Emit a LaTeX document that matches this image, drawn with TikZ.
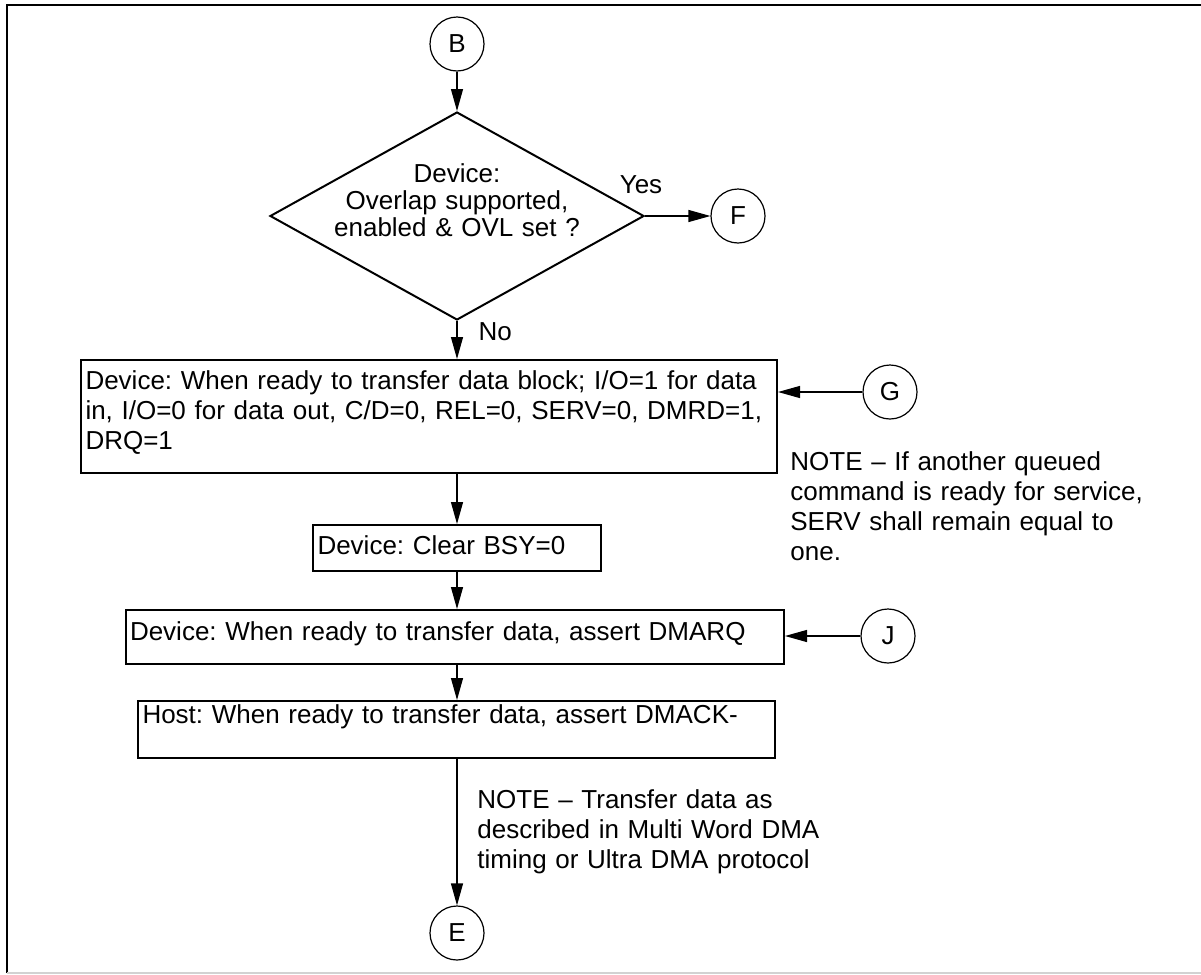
\documentclass[tikz,border=0pt]{standalone}
\usepackage{fontspec}
\setmainfont{Liberation Sans}
\usepackage{tikz}
\usetikzlibrary{shapes.geometric, arrows.meta, positioning, calc}
\frenchspacing
\tikzset{
    stepbox/.style={draw, rectangle, line width=1pt, anchor=north west, align=left, inner xsep=2.25pt, inner ysep=0pt, font=\fontsize{13}{15}\selectfont},
    decision/.style={draw, diamond, line width=1pt, minimum width=187pt, minimum height=104pt, inner sep=0pt},
    connector/.style={draw, circle, line width=0.6pt, minimum size=27pt, inner sep=0pt, font=\fontsize{13}{15}\selectfont},
    note/.style={anchor=base west, align=left, inner sep=0pt, font=\fontsize{13}{15}\selectfont},
    flowlabel/.style={inner sep=0pt, font=\fontsize{13}{15}\selectfont},
    arrow/.style={-{Triangle[length=11pt, width=6pt]}, line width=0.6pt}
}

\begin{document}
\begin{tikzpicture}[x=0.5pt, y=-0.5pt]
        \useasboundingbox (0,0) rectangle (1201,975);

        % Page frame
        \draw[line width=1.3pt] (7,973) -- (7,5) -- (1201,5);
        \draw[line width=0.6pt, color=gray!35] (7,973) -- (1201,973);

        % Off-page connectors
        \node[connector] (B) at (457,44) {B};
        \node[connector] (F) at (738,216) {F};
        \node[connector] (G) at (890,392) {G};
        \node[connector] (J) at (888,636) {J};
        \node[connector] (E) at (457,933) {E};

        % Overlap decision
        \node[decision, label={[flowlabel, align=center, text width=190pt, yshift=8pt, font=\fontsize{13}{13.5}\selectfont]center:Device:\\Overlap supported,\\enabled \& OVL set ?}] (ovl) at (457,216) {};

        % Process steps
        \node[stepbox, text width=343.5pt, text height=14.5pt, text depth=42pt] (devready) at (80,359)
            {Device: When ready to transfer data block; I/O=1 for data\\in, I/O=0 for data out, C/D=0, REL=0, SERV=0, DMRD=1,\\DRQ=1};
        \node[stepbox, text width=139.5pt, text height=14.5pt, text depth=8.5pt] (clearbsy) at (312,524)
            {Device: Clear BSY=0};
        \node[stepbox, text width=324.75pt, text height=15pt, text depth=12pt] (dmarq) at (124.5,609)
            {Device: When ready to transfer data, assert DMARQ};
        \node[stepbox, text width=314pt, text height=11pt, text depth=17.5pt] (hostack) at (137,700)
            {Host: When ready to transfer data, assert DMACK-};

        % Notes
        \node[note, text width=185pt] (servnote) at (790,470)
            {NOTE \textendash\ If another queued\\command is ready for service,\\SERV shall remain equal to\\one.};
        \node[note, text width=185pt] (xfernote) at (477,808)
            {NOTE \textendash\ Transfer data as\\described in Multi Word DMA\\timing or Ultra DMA protocol};

        % Flow
        \draw[arrow] (B) -- (ovl.north);
        \draw[arrow] (ovl.east) -- node[flowlabel, at start, anchor=south, yshift=11pt, xshift=-2pt] {Yes} (F);
        \draw[arrow] (ovl.south) -- node[flowlabel, at start, anchor=west, xshift=10.5pt, yshift=-5.5pt] {No} (ovl.south |- devready.north);
        \draw[arrow] (G) -- (G -| devready.east);
        \draw[arrow] (ovl.south |- devready.south) -- (ovl.south |- clearbsy.north);
        \draw[arrow] (ovl.south |- clearbsy.south) -- (ovl.south |- dmarq.north);
        \draw[arrow] (J) -- (J -| dmarq.east);
        \draw[arrow] (ovl.south |- dmarq.south) -- (ovl.south |- hostack.north);
        \draw[arrow] (ovl.south |- hostack.south) -- (E);
    \end{tikzpicture}
\end{document}
